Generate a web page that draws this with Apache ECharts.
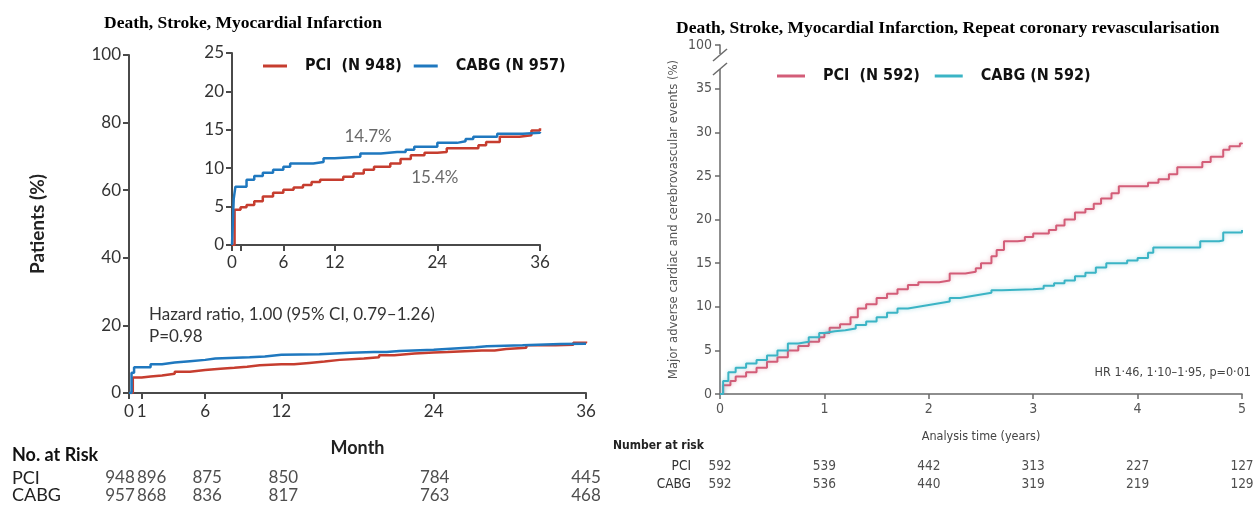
<!DOCTYPE html>
<html>
<head>
<meta charset="utf-8">
<script src="https://cdn.jsdelivr.net/npm/echarts@6.0.0/dist/echarts.min.js"></script>
<style>
  html, body { margin: 0; padding: 0; background: #fff; }
  #chart { width: 1260px; height: 510px; }
</style>
</head>
<body>
<div id="chart"></div>
<script>
// ---- left panel: death / stroke / MI, months ----
const pciMonths = [0, 0.3, 1, 1.7, 2.6, 3.6, 4.8, 6, 7.2, 8.3, 9.3, 10.3, 12, 13, 14.2, 15.4, 16.6, 18.5, 19.7, 20.9, 22.5, 24, 25.1, 27.8, 28.8, 29.7, 31.3, 33.6, 35, 36];
const pciPct    = [0, 4.6, 4.9, 5.2, 5.7, 6.3, 6.8, 7.2, 7.5, 7.8, 8.2, 8.5, 8.5, 8.9, 9.3, 9.8, 10.2, 10.6, 11.2, 11.7, 12.0, 12.1, 12.6, 12.6, 13.0, 13.4, 14.1, 14.3, 14.9, 15.2];
const cabgMonths = [0, 0.2, 0.4, 1.7, 2.6, 3.6, 4.8, 6, 6.8, 9.5, 10.7, 12, 15, 17.4, 19.3, 20.3, 21.3, 24, 26.3, 27.3, 28.2, 31, 34, 36];
const cabgPct    = [0, 6.0, 7.6, 8.5, 9.0, 9.4, 9.8, 10.2, 10.6, 10.8, 11.3, 11.5, 11.9, 12.1, 12.1, 12.4, 12.8, 13.3, 13.5, 13.8, 14.1, 14.5, 14.6, 14.7];

const leftTicks = [0, 1, 6, 12, 24, 36];
const insetLabels = [0, 6, 12, 24, 36];
const riskMonths = [0, 1, 6, 12, 24, 36];
const pciRiskLeft = [948, 896, 875, 850, 784, 445];
const cabgRiskLeft = [957, 868, 836, 817, 763, 468];
const insetNotes = [[15.9, 14.1, '14.7%'], [23.7, 8.85, '15.4%']];

// ---- right panel: MACCE, years ----
const pciYears = [0, 0.03, 0.1, 0.15, 0.25, 0.35, 0.45, 0.55, 0.65, 0.75, 0.85, 0.95, 1.0, 1.05, 1.15, 1.25, 1.32, 1.4, 1.5, 1.6, 1.7, 1.8, 1.9, 2.1, 2.2, 2.35, 2.45, 2.5, 2.6, 2.65, 2.72, 2.85, 2.92, 3.0, 3.15, 3.22, 3.3, 3.4, 3.5, 3.58, 3.65, 3.75, 3.82, 4.05, 4.1, 4.2, 4.3, 4.38, 4.55, 4.62, 4.7, 4.78, 4.82, 4.88, 4.98, 5.0];
const pciMacce = [0, 1.0, 1.5, 2.0, 2.5, 3.0, 3.7, 4.2, 5.0, 5.5, 6.0, 6.5, 7.0, 7.6, 8.0, 8.8, 9.8, 10.3, 11.0, 11.5, 12.0, 12.5, 12.8, 13.0, 13.8, 14.0, 14.4, 15.0, 15.8, 16.5, 17.5, 17.6, 18.0, 18.4, 18.8, 19.3, 20.0, 20.8, 21.2, 21.8, 22.4, 23.0, 23.8, 23.8, 24.2, 24.6, 25.2, 26.0, 26.0, 26.6, 27.2, 27.2, 28.0, 28.4, 28.7, 28.8];
const cabgYears = [0, 0.03, 0.08, 0.15, 0.25, 0.35, 0.45, 0.55, 0.65, 0.75, 0.85, 0.95, 1.0, 1.1, 1.2, 1.3, 1.4, 1.5, 1.6, 1.7, 1.8, 1.9, 2.0, 2.1, 2.2, 2.3, 2.4, 2.5, 2.6, 2.7, 3.0, 3.1, 3.2, 3.3, 3.4, 3.5, 3.6, 3.7, 3.9, 4.0, 4.1, 4.15, 4.55, 4.6, 4.78, 4.82, 5.0];
const cabgMacce = [0, 1.5, 2.5, 3.0, 3.5, 3.9, 4.4, 5.0, 5.8, 6.0, 6.5, 7.0, 7.2, 7.3, 7.5, 7.9, 8.3, 8.8, 9.3, 9.8, 10.0, 10.2, 10.4, 10.6, 11.0, 11.2, 11.4, 11.6, 11.9, 12.0, 12.1, 12.4, 12.7, 13.0, 13.5, 13.9, 14.5, 15.0, 15.3, 15.6, 16.2, 16.8, 16.8, 17.5, 17.6, 18.5, 18.8];

const riskYears = [0, 1, 2, 3, 4, 5];
const pciRiskRight = [592, 539, 442, 313, 227, 127];
const cabgRiskRight = [592, 536, 440, 319, 219, 129];
const riskRows = ['PCI', 'CABG'];

const SANS = 'Lato, "Open Sans", sans-serif';
const NARROW = '"Liberation Sans Narrow", "DejaVu Sans Condensed", "Roboto Condensed", sans-serif';
const SERIF = '"Liberation Serif", "DejaVu Serif", serif';
const RED_L = '#c63d2f', BLUE_L = '#1f78bf';
const RED_R = '#d35d78', TEAL_R = '#3bb4c5';
const AX_L = '#4a4a4a', AX_R = '#6a6a6a';

const zip = (xs, ys) => xs.map((x, i) => [x, ys[i]]);
// the first two left risk numbers are pushed apart so they don't collide
const crowdShift = [-9, 10, 2, 2, 1, 0];

const chart = echarts.init(document.getElementById('chart'));

function riskSeries(name, xIdx, yIdx, times, nums, row, font, shift) {
  return {
    name: name, type: 'scatter', xAxisIndex: xIdx, yAxisIndex: yIdx,
    symbolSize: 0, silent: true,
    data: times.map((t, i) => ({
      value: [t, row, nums[i]],
      label: { offset: [shift ? shift[i] : 0, 0] }
    })),
    label: {
      show: true, position: 'inside', formatter: p => p.value[2],
      fontFamily: font.family, fontSize: font.size, color: '#222'
    }
  };
}

const leftAxisLine = { show: true, onZero: false, lineStyle: { color: AX_L, width: 2 } };
const rightAxisLine = { show: true, onZero: false, lineStyle: { color: AX_R, width: 1.5 } };

const option = {
  animation: false,
  backgroundColor: '#fff',
  title: [
    { text: 'Death, Stroke, Myocardial Infarction', left: 104, top: 14, padding: 0,
      textStyle: { fontFamily: SERIF, fontWeight: 'bold', fontSize: 17.5, color: '#000' } },
    { text: 'Death, Stroke, Myocardial Infarction, Repeat coronary revascularisation', left: 676, top: 19, padding: 0,
      textStyle: { fontFamily: SERIF, fontWeight: 'bold', fontSize: 17.5, color: '#000' } }
  ],
  legend: [
    { data: ['PCI  (N 948)', 'CABG (N 957)'], left: 263, top: 58, padding: 0,
      icon: 'rect', itemWidth: 24, itemHeight: 3, itemGap: 12, selectedMode: false,
      textStyle: { fontFamily: NARROW, fontWeight: 'bold', fontSize: 16, color: '#111', padding: [0, 0, 0, 13] } },
    { data: ['PCI  (N 592)', 'CABG (N 592)'], left: 777, top: 68, padding: 0,
      icon: 'rect', itemWidth: 28, itemHeight: 3, itemGap: 15, selectedMode: false,
      textStyle: { fontFamily: NARROW, fontWeight: 'bold', fontSize: 16, color: '#111', padding: [0, 0, 0, 13] } }
  ],
  grid: [
    { left: 129, right: 674, top: 55, bottom: 117 },          // left main
    { left: 232, right: 720, top: 53, bottom: 265 },          // inset
    { left: 129, right: 674, top: 469, height: 35 },          // left risk
    { left: 720, right: 18, top: 45, bottom: 116 },           // right main
    { left: 720, right: 18, top: 457, height: 36 }            // right risk
  ],
  xAxis: [
    { type: 'value', gridIndex: 0, min: 0, max: 36, splitLine: { show: false },
      axisLine: leftAxisLine,
      axisTick: { show: true, length: 6, customValues: leftTicks, lineStyle: { color: AX_L, width: 2 } },
      axisLabel: { customValues: leftTicks, fontFamily: SANS, fontSize: 17, color: '#333', margin: 10 },
      name: 'Month', nameLocation: 'middle', nameGap: 46,
      nameTextStyle: { fontFamily: SANS, fontSize: 18, fontWeight: 'bold', color: '#222' } },
    { type: 'value', gridIndex: 1, min: 0, max: 36, splitLine: { show: false },
      axisLine: leftAxisLine,
      axisTick: { show: true, length: 6, customValues: leftTicks, lineStyle: { color: AX_L, width: 2 } },
      axisLabel: { customValues: insetLabels, fontFamily: SANS, fontSize: 17, color: '#333', margin: 9 } },
    { type: 'value', gridIndex: 2, min: 0, max: 36, show: false },
    { type: 'value', gridIndex: 3, min: 0, max: 5, interval: 1, splitLine: { show: false },
      axisLine: rightAxisLine,
      axisTick: { show: true, length: 5, lineStyle: { color: AX_R, width: 1.5 } },
      axisLabel: { fontFamily: NARROW, fontSize: 14, color: '#555', margin: 8 },
      name: 'Analysis time (years)', nameLocation: 'middle', nameGap: 36,
      nameTextStyle: { fontFamily: NARROW, fontSize: 12.5, color: '#444' } },
    { type: 'value', gridIndex: 4, min: 0, max: 5, show: false }
  ],
  yAxis: [
    { type: 'value', gridIndex: 0, min: 0, max: 100, interval: 20, splitLine: { show: false },
      axisLine: leftAxisLine,
      axisTick: { show: true, length: 6, lineStyle: { color: AX_L, width: 2 } },
      axisLabel: { fontFamily: SANS, fontSize: 17, color: '#333', margin: 8 },
      name: 'Patients (%)', nameLocation: 'middle', nameRotate: 90, nameGap: 82,
      nameTextStyle: { fontFamily: SANS, fontSize: 19, fontWeight: 'bold', color: '#222' } },
    { type: 'value', gridIndex: 1, min: 0, max: 25, interval: 5, splitLine: { show: false },
      axisLine: leftAxisLine,
      axisTick: { show: true, length: 6, lineStyle: { color: AX_L, width: 2 } },
      axisLabel: { fontFamily: SANS, fontSize: 17, color: '#333', margin: 8 } },
    { type: 'category', gridIndex: 2, data: riskRows, inverse: true,
      axisLine: { show: false }, axisTick: { show: false },
      axisLabel: { interval: 0, align: 'left', margin: 117, fontFamily: SANS, fontSize: 18, color: '#222' } },
    { type: 'value', gridIndex: 3, min: 0, max: 40, interval: 5, splitLine: { show: false },
      axisLine: rightAxisLine,
      axisTick: { show: true, length: 5, lineStyle: { color: AX_R, width: 1.5 } },
      axisLabel: { fontFamily: NARROW, fontSize: 14, color: '#555', margin: 8,
        formatter: v => (v === 40 ? '100' : String(v)) },
      name: 'Major adverse cardiac and cerebrovascular events (%)', nameLocation: 'middle', nameRotate: 90, nameGap: 40,
      nameTextStyle: { fontFamily: NARROW, fontSize: 13, color: '#555' } },
    { type: 'category', gridIndex: 4, data: riskRows, inverse: true,
      axisLine: { show: false }, axisTick: { show: false },
      axisLabel: { interval: 0, margin: 29, fontFamily: NARROW, fontSize: 13.5, color: '#333' } }
  ],
  series: [
    { name: 'PCI  (N 948)', type: 'line', step: 'end', xAxisIndex: 0, yAxisIndex: 0, color: RED_L,
      showSymbol: false, lineStyle: { width: 2.5 }, data: zip(pciMonths, pciPct) },
    { name: 'CABG (N 957)', type: 'line', step: 'end', xAxisIndex: 0, yAxisIndex: 0, color: BLUE_L,
      showSymbol: false, lineStyle: { width: 2.5 }, data: zip(cabgMonths, cabgPct) },
    { name: 'PCI  (N 948)', type: 'line', step: 'end', xAxisIndex: 1, yAxisIndex: 1, color: RED_L,
      showSymbol: false, lineStyle: { width: 2.5 }, data: zip(pciMonths, pciPct) },
    { name: 'CABG (N 957)', type: 'line', step: 'end', xAxisIndex: 1, yAxisIndex: 1, color: BLUE_L,
      showSymbol: false, lineStyle: { width: 2.5 }, data: zip(cabgMonths, cabgPct) },
    { name: 'inset notes', type: 'scatter', xAxisIndex: 1, yAxisIndex: 1, symbolSize: 0, silent: true,
      data: insetNotes,
      label: { show: true, position: 'inside', formatter: p => p.value[2],
        fontFamily: SANS, fontSize: 17, color: '#444' } },
    riskSeries('risk pci L', 2, 2, riskMonths, pciRiskLeft, 0, { family: SANS, size: 17 }, crowdShift),
    riskSeries('risk cabg L', 2, 2, riskMonths, cabgRiskLeft, 1, { family: SANS, size: 17 }, crowdShift),
    { name: 'PCI  (N 592)', type: 'line', step: 'end', xAxisIndex: 3, yAxisIndex: 3, color: RED_R,
      showSymbol: false,
      lineStyle: { width: 2, shadowBlur: 4, shadowColor: 'rgba(211,93,120,0.45)' },
      data: zip(pciYears, pciMacce) },
    { name: 'CABG (N 592)', type: 'line', step: 'end', xAxisIndex: 3, yAxisIndex: 3, color: TEAL_R,
      showSymbol: false,
      lineStyle: { width: 2, shadowBlur: 4, shadowColor: 'rgba(59,180,197,0.45)' },
      data: zip(cabgYears, cabgMacce) },
    riskSeries('risk pci R', 4, 4, riskYears, pciRiskRight, 0, { family: NARROW, size: 13.5 }),
    riskSeries('risk cabg R', 4, 4, riskYears, cabgRiskRight, 1, { family: NARROW, size: 13.5 })
  ],
  graphic: [
    { type: 'text', left: 149, top: 304, z: 100,
      style: { text: 'Hazard ratio, 1.00 (95% CI, 0.79\u20131.26)\nP=0.98', lineHeight: 22,
        font: '17px ' + SANS, fill: '#333' } },
    { type: 'text', left: 12, top: 446, z: 100,
      style: { text: 'No. at Risk', font: 'bold 18px ' + SANS, fill: '#111' } },
    { type: 'text', left: 613, top: 440, z: 100,
      style: { text: 'Number at risk', font: 'bold 12px ' + NARROW, fill: '#222' } },
    { type: 'text', right: 9, top: 366, z: 100,
      style: { text: 'HR 1\u00b746, 1\u00b710\u20131\u00b795, p=0\u00b701', font: '12.5px ' + NARROW, fill: '#444' } },
    // axis break on the right y axis
    { type: 'rect', z: 100, shape: { x: 716, y: 54, width: 9, height: 15 }, style: { fill: '#fff' } },
    { type: 'line', z: 101, shape: { x1: 713, y1: 61, x2: 727, y2: 49 }, style: { stroke: AX_R, lineWidth: 1.5 } },
    { type: 'line', z: 101, shape: { x1: 713, y1: 75, x2: 727, y2: 63 }, style: { stroke: AX_R, lineWidth: 1.5 } }
  ]
};

chart.setOption(option);
window.addEventListener('resize', () => chart.resize());
</script>
</body>
</html>
